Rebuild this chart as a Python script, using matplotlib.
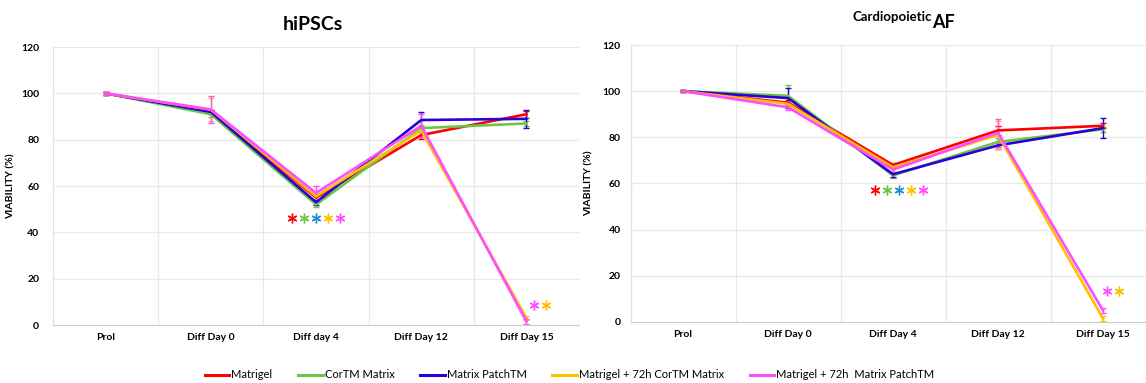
import numpy as np
import matplotlib
matplotlib.use('Agg')
import matplotlib.pyplot as plt

plt.rcParams['font.family'] = ['Lato', 'DejaVu Sans']

categories = ['Prol', 'Diff Day 0', 'Diff day 4', 'Diff Day 12', 'Diff Day 15']
categories_af = ['Prol', 'Diff Day 0', 'Diff Day 4', 'Diff Day 12', 'Diff Day 15']
series_names = ['Matrigel', 'CorTM Matrix', 'Matrix PatchTM',
                'Matrigel + 72h CorTM Matrix', 'Matrigel + 72h  Matrix PatchTM']
colors = ['#FF0000', '#6CC644', '#2A00D8', '#FFC000', '#FF4CFF']
star_colors = ['#FF0000', '#6CC644', '#1F8FD0', '#FFC000', '#FF4CFF']

# hiPSCs
hipsc_vals = [
    [100, 92, 55, 82, 91],
    [100, 91, 52, 85, 87],
    [100, 92, 53, 88.5, 89],
    [100, 93, 55.5, 84, 3],
    [100, 93, 57, 86, 1.5],
]
hipsc_err = [
    [0.5, 1, 1.5, 1.5, 1.5],
    [0.5, 1, 1, 1.5, 1],
    [0.5, 1, 1, 3.5, 4],
    [0.5, 5, 2, 2, 1],
    [0.5, 6, 3, 5, 1],
]

# Cardiopoietic AF
af_vals = [
    [100, 95, 68, 83, 85],
    [100, 98, 63.5, 78, 83.5],
    [100, 97, 64, 76.5, 84],
    [100, 94.5, 67, 81, 1.5],
    [100, 93, 66, 82, 5],
]
af_err = [
    [0.5, 1, 1, 2, 1],
    [0.5, 4.5, 1, 1.5, 1],
    [0.5, 4.5, 1, 1.5, 4.5],
    [0.5, 1, 2, 6, 1],
    [0.5, 1, 1.5, 6, 1],
]

# heights of the asterisk rows
hipsc_stars_d4 = 46
hipsc_stars_d15 = 8.7
af_stars_d4 = 57.3
af_stars_d15 = 13.3

fig = plt.figure(figsize=(11.46, 3.83), dpi=100)
ax1 = fig.add_axes([0.0463, 0.1514, 0.459, 0.7258])
ax2 = fig.add_axes([0.5502, 0.1593, 0.4581, 0.7232])


def draw(ax, vals, errs, cats, star_d4, star_d15, d4_shift, d15_shift, ylab_x, ypad):
    x = np.arange(len(cats))
    for v, e, c in zip(vals, errs, colors):
        ax.errorbar(x, v, yerr=e, color=c, lw=1.9, elinewidth=1, capsize=2,
                    capthick=1)
    # stars under Diff day 4
    offs = (np.arange(5) - 2) * 0.114 + d4_shift
    for o, c in zip(offs, star_colors):
        ax.plot(2 + o, star_d4, marker=(6, 2, 0), ms=7, mew=1.0, color=c,
                ls='none', clip_on=False)
    # stars at Diff Day 15
    for o, c in zip([d15_shift, d15_shift + 0.114], [star_colors[4], star_colors[3]]):
        ax.plot(4 + o, star_d15, marker=(6, 2, 0), ms=7, mew=1.0, color=c,
                ls='none', clip_on=False)
    ax.set_xlim(-0.5, 4.5)
    ax.set_ylim(0, 120)
    ax.set_yticks(range(0, 121, 20))
    ax.set_xticks(x)
    ax.set_xticklabels(cats, fontsize=7.5, fontweight='bold')
    ax.set_xticks(np.arange(-0.5, 4.6, 1), minor=True)
    ax.tick_params(axis='x', which='both', length=0, pad=6)
    ax.tick_params(axis='y', length=0, pad=ypad, labelsize=7.5)
    for lab in ax.get_yticklabels():
        lab.set_fontweight('bold')
    ax.grid(axis='y', color='#E8E8E8', lw=0.9)
    ax.grid(axis='x', which='minor', color='#E8E8E8', lw=0.9)
    ax.set_axisbelow(True)
    for s in ['top', 'right']:
        ax.spines[s].set_visible(False)
    ax.spines['left'].set_color('#E0E0E0')
    ax.spines['bottom'].set_color('#CCCCCC')
    ax.set_ylabel('VIABILITY (%)', fontsize=7.5, fontweight='bold')
    ax.yaxis.set_label_coords(ylab_x, 0.5)


draw(ax1, hipsc_vals, hipsc_err, categories, hipsc_stars_d4, hipsc_stars_d15,
     0.0, 0.076, -0.072, 10)
draw(ax2, af_vals, af_err, categories_af, af_stars_d4, af_stars_d15,
     0.057, 0.04, -0.07, 7)

fig.text(313 / 1146, 1 - 24 / 383, 'hiPSCs', ha='center', va='center',
         fontsize=14, fontweight='bold')
fig.text(932 / 1146, 1 - 21 / 383, 'Cardiopoietic', ha='right', va='baseline',
         fontsize=9.5, fontweight='bold')
fig.text(932 / 1146, 1 - 28 / 383, 'AF', ha='left', va='baseline',
         fontsize=13, fontweight='bold')

handles = [plt.Line2D([], [], color=c, lw=2.2) for c in colors]
fig.legend(handles, series_names, loc='center', ncol=5,
           bbox_to_anchor=(0.497, 1 - 375 / 383), frameon=False, fontsize=8,
           handlelength=2.2, handletextpad=0.2, columnspacing=2.3)

fig.savefig('out.png', dpi=100)
